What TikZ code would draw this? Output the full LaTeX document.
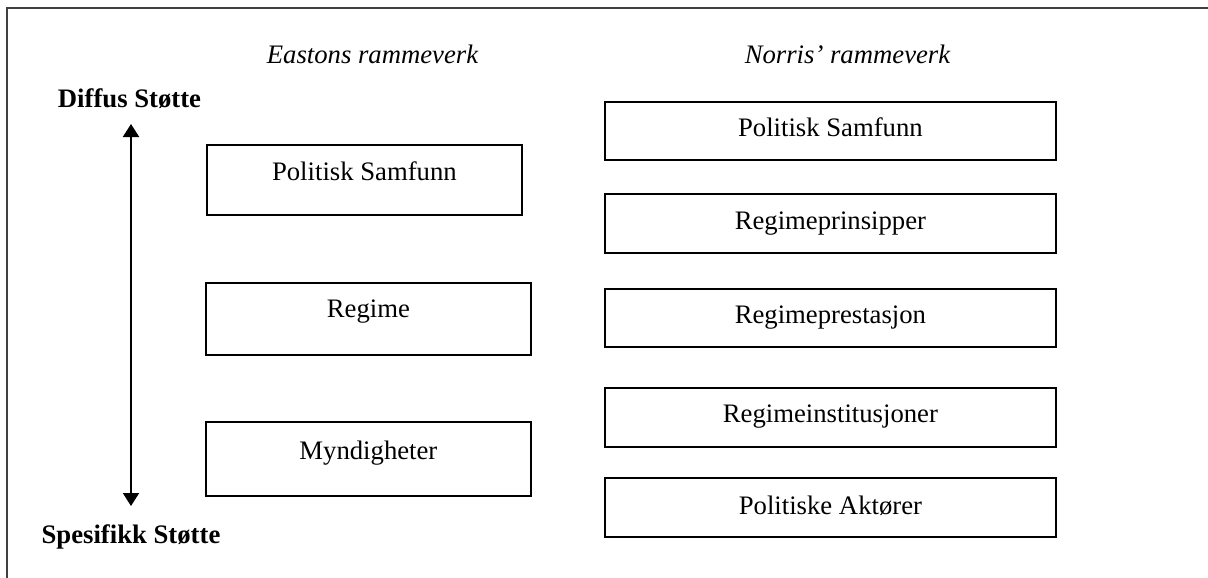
\documentclass[tikz,border=0pt]{standalone}
\usepackage{fontspec}
\setmainfont{Liberation Serif}
\usetikzlibrary{arrows.meta}
\tikzset{
  txt/.style={font=\fontsize{26.7}{32}\selectfont, inner sep=0pt},
  box/.style={txt, draw, line width=1.8pt, anchor=north west, align=center, minimum height=0pt},
  hdr/.style={txt, font=\fontsize{26.7}{32}\selectfont\itshape, anchor=base},
  pole/.style={txt, font=\fontsize{26.7}{32}\selectfont\bfseries, anchor=base},
  frameline/.style={draw=black!75, line width=1.2pt},
  axis/.style={line width=2pt, {Triangle[width=16pt,length=13pt]}-{Triangle[width=16pt,length=13pt]}}
}
\begin{document}
\begin{tikzpicture}[x=1pt,y=-1pt]
\useasboundingbox (0,0) rectangle (1208,578);
\draw[frameline] (7,578) -- (7,8) -- (1208,8);

\node[hdr] (he) at (372.5,64) {Eastons rammeverk};
\node[hdr] (hn) at (847.5,64) {Norris' rammeverk};

\node[pole] (diff) at (129.5,107) {Diffus Støtte};
\node[pole] (spes) at (131,543) {Spesifikk Støtte};
\coordinate (atop) at (131,124);
\coordinate (abot) at (131,506);
\draw[axis] (atop) -- (abot);

\node[box, minimum width=315pt, text height=36pt, text depth=34pt] (ep) at (206,144) {Politisk Samfunn};
\node[box, minimum width=325pt, text height=35pt, text depth=37pt] (er) at (205,282) {Regime};
\node[box, minimum width=325pt, text height=38pt, text depth=36pt] (em) at (205,421) {Myndigheter};

\node[box, minimum width=451pt, text height=35pt, text depth=23pt] (np) at (604,101) {Politisk Samfunn};
\node[box, minimum width=451pt, text height=36pt, text depth=23pt] (nr1) at (604,193) {Regimeprinsipper};
\node[box, minimum width=451pt, text height=35pt, text depth=23pt] (nr2) at (604,288) {Regimeprestasjon};
\node[box, minimum width=451pt, text height=35pt, text depth=24pt] (nr3) at (604,387) {Regimeinstitusjoner};
\node[box, minimum width=451pt, text height=37pt, text depth=22pt] (na) at (604,477) {Politiske Aktører};
\end{tikzpicture}
\end{document}
